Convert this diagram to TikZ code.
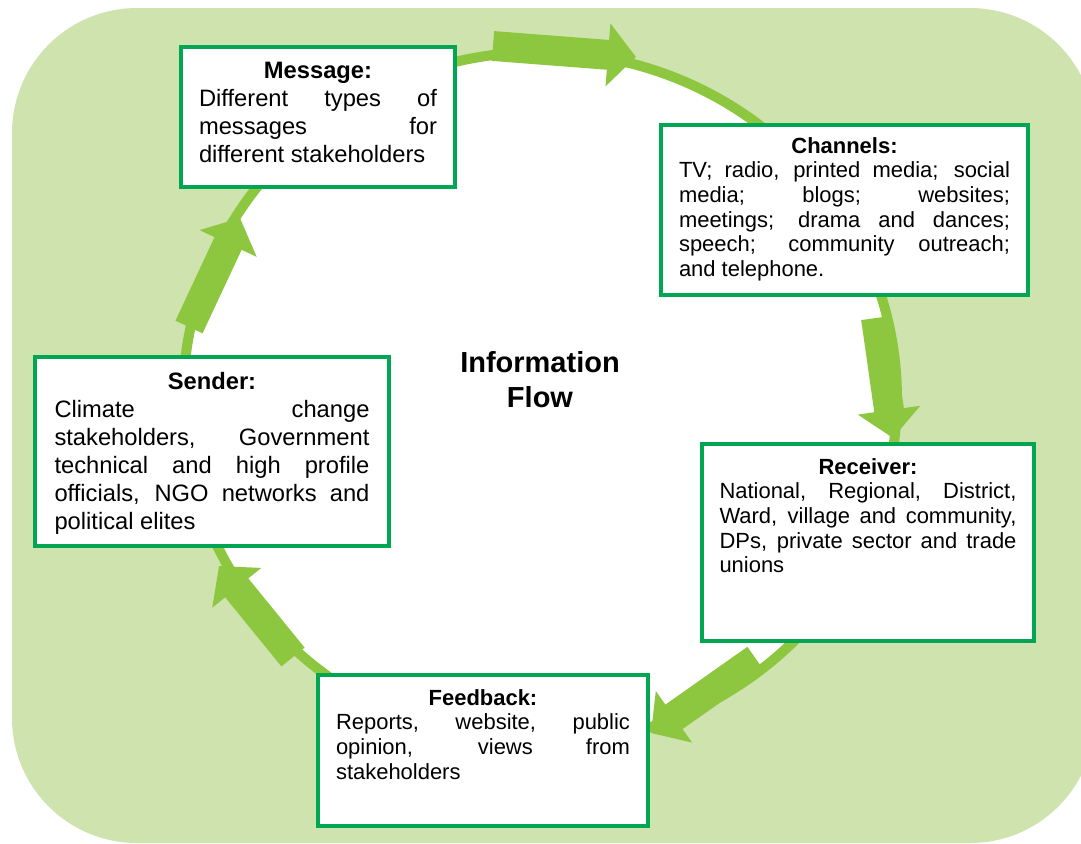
\documentclass[tikz,border=0pt]{standalone}
\usepackage{fontspec}
\setmainfont{Liberation Sans}
\usepackage{xcolor}
\usetikzlibrary{positioning,arrows.meta}
\definecolor{bgGreen}{RGB}{206,227,174}
\definecolor{ringGreen}{RGB}{141,198,63}
\definecolor{boxGreen}{RGB}{0,166,81}
\newcommand\bigText{\fontsize{13.5pt}{15.9pt}\selectfont}
\newcommand\smallText{\fontsize{12.5pt}{14pt}\selectfont}

\tikzset{
    infobox/.style={draw=boxGreen, line width=2.3pt, fill=white, inner sep=0pt, anchor=north west},
    boxtext/.style={inner sep=0pt, align=justify},
    flowarrow/.style={draw=ringGreen, line width=17pt, -{Triangle[width=35pt,length=16pt]}},
}

\begin{document}
\hyphenpenalty=10000
\exhyphenpenalty=10000
\begin{tikzpicture}[x=0.02cm, y=-0.02cm]
    \useasboundingbox (0,0) rectangle (1081,843);
    \fill[bgGreen, rounded corners=2.5cm] (12,8) rectangle (1095,843);
    \draw[ringGreen, line width=5.7pt, fill=white] (540,398) ellipse [x radius=7.14cm, y radius=6.92cm];

    % arrows along the ring
    \coordinate (topTail) at (493,46);
    \coordinate (topTip) at (636,57);
    \coordinate (rightTail) at (876,318);
    \coordinate (rightTip) at (893,438);
    \coordinate (lowRightTail) at (756,659);
    \coordinate (lowRightTip) at (651,733);
    \coordinate (lowLeftTail) at (293,657);
    \coordinate (lowLeftTip) at (219,566);
    \coordinate (leftTail) at (189,327);
    \coordinate (leftTip) at (240,218);
    \draw[flowarrow] (topTail) -- (topTip);
    \draw[flowarrow] (rightTail) -- (rightTip);
    \draw[flowarrow] (lowRightTail) -- (lowRightTip);
    \draw[flowarrow] (lowLeftTail) -- (lowLeftTip);
    \draw[flowarrow] (leftTail) -- (leftTip);

    \node[font=\fontsize{16.5pt}{19.8pt}\selectfont\bfseries, align=center] (flow) at (540,380) {Information\\Flow};

    \node[infobox, minimum width=5.48cm, minimum height=2.8cm] (message) at (179,45) {};
    \node[boxtext, text width=4.76cm, font=\bigText, below=9.4pt of message.north] (messageText)
        {{\centering\textbf{Message:}\par}Different types of\linebreak messages for\linebreak different stakeholders};

    \node[infobox, minimum width=7.34cm, minimum height=3.4cm] (channels) at (659,123) {};
    \node[boxtext, text width=6.62cm, font=\smallText, below=8pt of channels.north] (channelsText)
        {{\centering\textbf{Channels:}\par}TV; radio, printed media; social\linebreak media; blogs; websites;\linebreak meetings; drama and dances;\linebreak speech; community outreach;\linebreak and telephone.};

    \node[infobox, minimum width=7.08cm, minimum height=3.78cm] (sender) at (33,355) {};
    \node[boxtext, text width=6.3cm, font=\bigText, below=9.9pt of sender.north] (senderText)
        {{\centering\textbf{Sender:}\par}Climate change\linebreak stakeholders, Government\linebreak technical and high profile\linebreak officials, NGO networks and\linebreak political elites};

    \node[infobox, minimum width=6.64cm, minimum height=3.94cm] (receiver) at (700,442) {};
    \node[boxtext, text width=5.94cm, font=\smallText, below=9.1pt of receiver.north] (receiverText)
        {{\centering\textbf{Receiver:}\par}National, Regional, District,\linebreak Ward, village and community,\linebreak DPs, private sector and trade\linebreak unions};

    \node[infobox, minimum width=6.6cm, minimum height=3.02cm] (feedback) at (316,673) {};
    \node[boxtext, text width=5.88cm, font=\smallText, below=9.1pt of feedback.north] (feedbackText)
        {{\centering\textbf{Feedback:}\par}Reports, website, public\linebreak opinion, views from\linebreak stakeholders};
\end{tikzpicture}
\end{document}
